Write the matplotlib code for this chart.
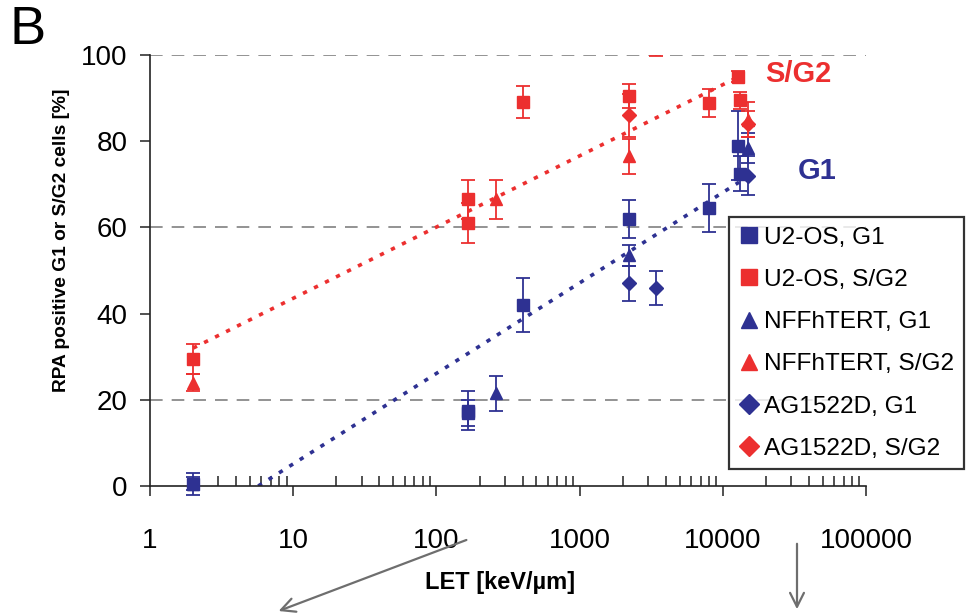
import numpy as np
import matplotlib
matplotlib.use('Agg')
import matplotlib.pyplot as plt

plt.rcParams['font.family'] = ['Liberation Sans', 'DejaVu Sans']

red = '#EC2F2F'
navy = '#2E3192'

# U2-OS
u2os_g1_x = [2, 165, 165, 400, 2200, 8000, 12800, 13100]
u2os_g1_y = [0.5, 17.5, 17.0, 42, 62, 64.5, 79, 72.5]
u2os_g1_err = [2.5, 4.5, 3.0, 6.3, 4.4, 5.5, 8, 4]

u2os_sg2_x = [2, 165, 165, 400, 2200, 3400, 8000, 12800, 13100]
u2os_sg2_y = [29.5, 66.5, 61, 89, 90.5, 104, 88.8, 95, 89.5]
u2os_sg2_err = [3.5, 4.5, 4.6, 3.7, 2.8, 4.2, 3.2, 1.3, 2]

# NFFhTERT
nff_g1_x = [2, 260, 2200, 15000]
nff_g1_y = [0.5, 21.5, 53.5, 78.5]
nff_g1_err = [1.5, 4, 2.5, 3.5]

nff_sg2_x = [2, 260, 2200, 15000]
nff_sg2_y = [24, 66.5, 76.5, 85]
nff_sg2_err = [2, 4.5, 4, 4]

# AG1522D
ag_g1_x = [2200, 3400, 15000]
ag_g1_y = [47, 46, 72]
ag_g1_err = [4, 4, 4.5]

ag_sg2_x = [2200, 15000]
ag_sg2_y = [86, 84]
ag_sg2_err = [5, 3]

# fitted trend lines (end points)
fit_sg2_x = [2, 13000]
fit_sg2_y = [32, 95]
fit_g1_x = [5.7, 13000]
fit_g1_y = [0, 70.5]

x_ticks = [1, 10, 100, 1000, 10000, 100000]
y_ticks = [0, 20, 40, 60, 80, 100]
grid_y = [20, 60, 100]

fig = plt.figure(figsize=(9.8, 6.14), dpi=100)
ax = fig.add_axes([150/980, 1-486/614, 716/980, 431/614])

for gy in grid_y:
    ax.axhline(gy, color='#8a8a8a', lw=1.3, ls=(0, (7, 5)), zorder=1)

ax.plot(fit_sg2_x, fit_sg2_y, color=red, lw=2.6, ls=(0, (1.2, 2.2)), zorder=2)
ax.plot(fit_g1_x, fit_g1_y, color=navy, lw=2.6, ls=(0, (1.2, 2.2)), zorder=2)

series = [
    (u2os_g1_x, u2os_g1_y, u2os_g1_err, navy, 's', 'U2-OS, G1'),
    (u2os_sg2_x, u2os_sg2_y, u2os_sg2_err, red, 's', 'U2-OS, S/G2'),
    (nff_g1_x, nff_g1_y, nff_g1_err, navy, '^', 'NFFhTERT, G1'),
    (nff_sg2_x, nff_sg2_y, nff_sg2_err, red, '^', 'NFFhTERT, S/G2'),
    (ag_g1_x, ag_g1_y, ag_g1_err, navy, 'D', 'AG1522D, G1'),
    (ag_sg2_x, ag_sg2_y, ag_sg2_err, red, 'D', 'AG1522D, S/G2'),
]

handles = []
for xs, ys, es, col, mk, lab in series:
    xs = np.array(xs); ys = np.array(ys); es = np.array(es)
    inside = ys <= 100
    ms = 7 if mk == 'D' else 8.5
    ax.errorbar(xs[inside], ys[inside], yerr=es[inside], fmt=mk, color=col,
                ms=ms, elinewidth=1.3, capsize=5, capthick=1.3, zorder=3, clip_on=False)
    if (~inside).any():
        ax.errorbar(xs[~inside], ys[~inside], yerr=es[~inside], fmt=mk, color=col,
                    ms=ms, elinewidth=1.3, capsize=5, capthick=1.3, zorder=3)
    h, = ax.plot([], [], mk, color=col, ms=ms * 1.4, ls='none', label=lab)
    handles.append(h)

ax.set_xscale('log')
ax.set_xlim(1, 100000)
ax.set_ylim(0, 100)
ax.set_xticks(x_ticks)
ax.set_xticklabels([str(v) for v in x_ticks])
ax.set_yticks(y_ticks)

for s in ['top', 'right']:
    ax.spines[s].set_visible(False)
for s in ['left', 'bottom']:
    ax.spines[s].set_color('#222222')
    ax.spines[s].set_linewidth(1.2)

ax.tick_params(axis='x', which='major', direction='out', length=7, width=1.1,
               labelsize=20, pad=23, color='#222222')
ax.tick_params(axis='x', which='minor', direction='in', length=7, width=1.1, color='#222222')
ax.tick_params(axis='y', which='major', direction='out', length=7, width=1.1,
               labelsize=20, pad=9, color='#222222')

fig.text(500/980, 1-582/614, 'LET [keV/\u00b5m]', fontsize=17, fontweight='bold',
         ha='center', va='center')
fig.text(62/980, 1-240/614, 'RPA positive G1 or S/G2 cells [%]', fontsize=13.8,
         fontweight='bold', rotation=90, ha='center', va='center')
fig.text(10/980, 1-30/614, 'B', fontsize=39, ha='left', va='center')

ax.text(765/980, 1-74/614, 'S/G2', transform=fig.transFigure, color=red,
        fontsize=21, fontweight='bold', ha='left', va='center')
ax.text(798/980, 1-171/614, 'G1', transform=fig.transFigure, color=navy,
        fontsize=21, fontweight='bold', ha='left', va='center')

leg = fig.legend(handles=handles, loc='upper left', bbox_to_anchor=(729/980, 1-217/614),
                 bbox_transform=fig.transFigure, fontsize=17.6, frameon=True, fancybox=False,
                 borderpad=0.4, labelspacing=0.82, handlelength=0.8, handletextpad=0.25,
                 borderaxespad=0)
leg.get_frame().set_edgecolor('black')
leg.get_frame().set_linewidth(1.6)

# arrows pointing to the panel below
fig.add_artist(matplotlib.patches.FancyArrowPatch(
    (469, 614-539), (276, 614-612), transform=None, arrowstyle='->,head_length=10,head_width=5',
    color='#6e6e6e', lw=1.6))
fig.add_artist(matplotlib.patches.FancyArrowPatch(
    (797, 614-541), (797, 614-612), transform=None, arrowstyle='->,head_length=10,head_width=5',
    color='#6e6e6e', lw=1.6))

fig.savefig('out.png', dpi=100)
